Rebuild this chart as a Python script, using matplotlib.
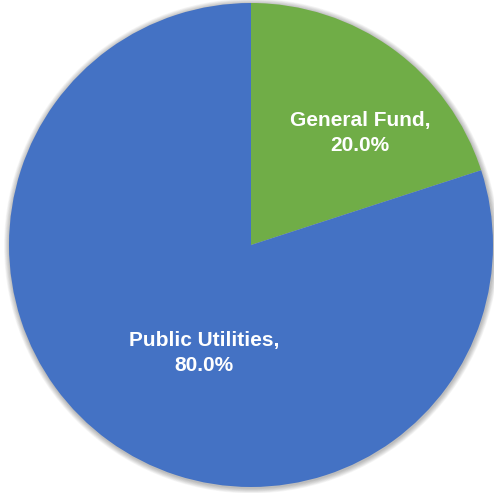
import numpy as np
import matplotlib.pyplot as plt
from matplotlib.patches import Circle

# Fund shares
funds = ["General Fund", "Public Utilities"]
shares = [20.0, 80.0]
colors = ["#70AD47", "#4472C4"]

# label centres, in units of the pie radius
label_pos = [(0.45, 0.463), (-0.194, -0.446)]

fig = plt.figure(figsize=(4.94, 4.93), dpi=100)
# pie circle: centre (251, 245) px, radius 242 px; a little margin for the shadow
R = 242
pad = 8
ax = fig.add_axes([(251 - R - pad) / 494, (493 - 245 - R - pad) / 493,
                   2 * (R + pad) / 494, 2 * (R + pad) / 493])
lim = (R + pad) / R

# soft shadow round the pie
for i in range(8):
    r = 1.0 + (8 - i) * 0.0028
    ax.add_patch(Circle((0.002, -0.004), r, color="black", alpha=0.035, lw=0, zorder=0))

ax.pie(shares, colors=colors, startangle=90, counterclock=False,
       radius=1.0, wedgeprops=dict(linewidth=0, zorder=1))
ax.set_xlim(-lim, lim)
ax.set_ylim(-lim, lim)
ax.set_aspect("equal")
ax.axis("off")

for name, val, (x, y) in zip(funds, shares, label_pos):
    ax.text(x, y, f"{name},\n{val:.1f}%", ha="center", va="center",
            color="white", fontsize=15, fontweight="bold",
            family="Liberation Sans", linespacing=1.42, zorder=3)

fig.savefig("out.png", dpi=100)
